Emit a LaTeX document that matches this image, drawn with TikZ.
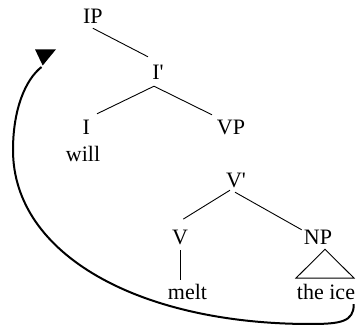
\documentclass[tikz,border=0pt]{standalone}
\usepackage{fontspec}
\setmainfont{Liberation Serif}
\usetikzlibrary{calc}
\begin{document}
\begin{tikzpicture}[x=1pt,y=-1pt,
  lbl/.style={font=\fontsize{22}{24}\selectfont, inner sep=0pt, anchor=base, text height=15pt, text depth=4pt},
  edge/.style={line width=0.9pt},
  move/.style={line width=2pt}]
\path[use as bounding box] (0,0) rectangle (362,334);
\node[lbl] (IP) at (92.8,24) {IP};
\node[lbl] (Ibar) at (158,80) {I\textquotesingle};
\node[lbl] (I) at (86.3,135) {I};
\node[lbl] (VP) at (231,135) {VP};
\node[lbl] (will) at (83,162) {will};
\node[lbl] (Vbar) at (236,188) {V\textquotesingle};
\node[lbl] (V) at (180,245) {V};
\node[lbl] (NP) at (318,245) {NP};
\node[lbl] (melt) at (187.5,299) {melt};
\node[lbl] (ice) at (326,299) {the ice};
\coordinate (tip) at (41.5,67);
% tree edges
\draw[edge] (IP.south) -- ($(Ibar.north)+(-10,-8)$);
\draw[edge] ($(Ibar.south)+(-4,2)$) -- ($(I.north)+(10.7,-6)$);
\draw[edge] ($(Ibar.south)+(-4,2)$) -- ($(VP.north)+(-19,-5)$);
\draw[edge] ($(Vbar.south)+(-6,-2)$) -- ($(V.north)+(3.3,-10.7)$);
\draw[edge] ($(Vbar.south)+(-1,0)$) -- ($(NP.north)+(-16.3,0)$);
\draw[edge] ($(V.south)+(0,1)$) -- ($(melt.north)+(-7.5,-4)$);
\draw[edge] ($(NP.south)+(7,0)$) -- ($(ice.north)+(-30,-5.7)$) -- ($(ice.north)+(28,-5.7)$) -- cycle;
% movement arrow
\draw[move] ($(ice.south east)+(-1.5,1)$) .. controls (354,322) and (340,324) .. (310,324)
  .. controls (140,324) and (13,255) .. (13,150)
  .. controls (13,110) and (25,80) .. (tip);
\fill ($(tip)+(-6.5,-17.7)$) -- ($(tip)+(14.5,-17.7)$) -- ($(tip)+(1.2,-1.5)$) -- cycle;
\end{tikzpicture}
\end{document}
